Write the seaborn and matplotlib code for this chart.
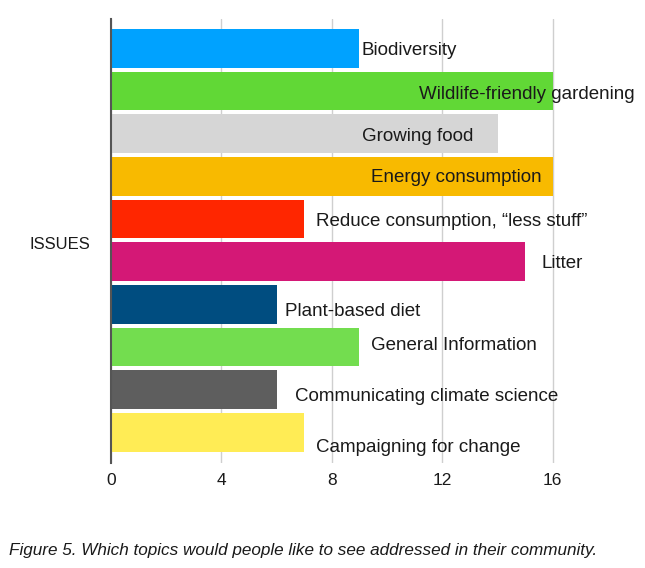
import matplotlib
matplotlib.use("Agg")
import matplotlib.pyplot as plt
import seaborn as sns
import pandas as pd

# ---- data ----
categories = [
    "Biodiversity",
    "Wildlife-friendly gardening",
    "Growing food",
    "Energy consumption",
    "Reduce consumption, \u201cless stuff\u201d",
    "Litter",
    "Plant-based diet",
    "General Information",
    "Communicating climate science",
    "Campaigning for change",
]
values = [9, 16, 14, 16, 7, 15, 6, 9, 6, 7]
xticks = [0, 4, 8, 12, 16]
axis_label = "ISSUES"
caption = "Figure 5. Which topics would people like to see addressed in their community."

# ---- styling ----
colors = ["#00A2FF", "#61D836", "#D6D6D6", "#F8BA00", "#FF2600",
          "#D41876", "#004D80", "#73DD4F", "#5E5E5E", "#FFEC55"]
label_x = [9.08, 11.16, 9.08, 9.42, 7.44, 15.6, 6.32, 9.42, 6.67, 7.41]
label_dy = [0.06, 0.07, 0.06, 0.02, 0.05, 0.05, 0.18, -0.04, 0.17, 0.35]

sns.set_theme(style="white")
plt.rcParams["font.family"] = ["Liberation Sans", "DejaVu Sans"]

df = pd.DataFrame({"topic": categories, "count": values})

fig = plt.figure(figsize=(6.45, 5.68), dpi=100)
ax = fig.add_axes([0.1721, 0.1849, 0.7705, 0.7817])

sns.barplot(data=df, x="count", y="topic", hue="topic", palette=colors,
            legend=False, width=0.91, orient="h", ax=ax, saturation=1,
            linewidth=0)

ax.set_xlim(0, 18)
ax.set_ylim(9.72, -0.69)
ax.set_xticks(xticks)
ax.set_xticklabels([str(t) for t in xticks], fontsize=12.5, color="#1a1a1a")
ax.set_yticks([])
ax.tick_params(axis="x", length=0, pad=7)
ax.set_axisbelow(True)
ax.xaxis.grid(True, color="#cfcfcf", linewidth=1)
ax.yaxis.grid(False)
for s in ["top", "right", "bottom"]:
    ax.spines[s].set_visible(False)
ax.spines["left"].set_color("#555555")
ax.spines["left"].set_linewidth(1.5)
ax.set_xlabel("")
ax.set_ylabel(axis_label, rotation=0, ha="right", va="center",
              fontsize=12, color="#1a1a1a")
ax.yaxis.set_label_coords(-0.042, 0.493)

for i, (lx, dy) in enumerate(zip(label_x, label_dy)):
    ax.text(lx, i + dy, categories[i], ha="left", va="center",
            fontsize=13.5, color="#1a1a1a")

fig.text(9 / 645, 1 - 550 / 568, caption, ha="left", va="center",
         fontsize=12.35, style="italic", color="#1a1a1a")

fig.savefig("out.png", dpi=100)
